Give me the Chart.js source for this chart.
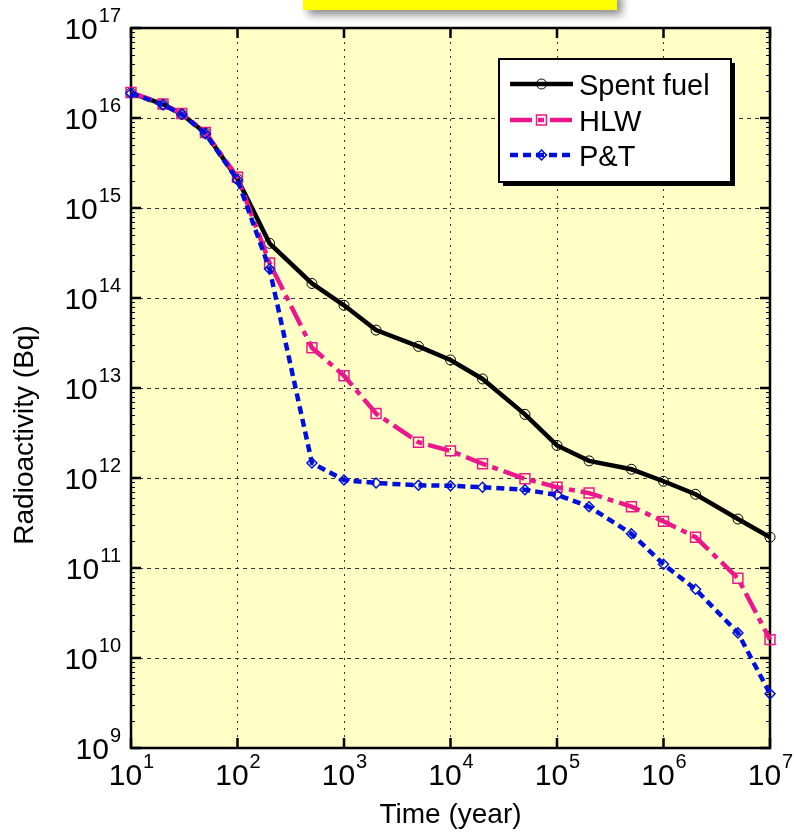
<!DOCTYPE html>
<html>
<head>
<meta charset="utf-8">
<script src="https://cdn.jsdelivr.net/npm/chart.js@4.4.0/dist/chart.umd.min.js"></script>
<style>
  html, body { margin: 0; padding: 0; background: #fff; }
  canvas { display: block; }
</style>
</head>
<body>
<canvas id="decayChart" width="794" height="834"></canvas>
<script>
// time after discharge (year)
const timeYears = [10, 20, 30, 50, 100, 200, 500, 1e3, 2e3, 5e3, 1e4, 2e4, 5e4, 1e5, 2e5, 5e5, 1e6, 2e6, 5e6, 1e7];

// radioactivity (Bq)
const spentFuel = [1.9e16, 1.42e16, 1.1e16, 6.8e15, 2.1e15, 4.05e14, 1.45e14, 8.3e13, 4.4e13, 2.9e13,
                   2.05e13, 1.26e13, 5.1e12, 2.3e12, 1.55e12, 1.25e12, 9.2e11, 6.6e11, 3.5e11, 2.2e11];
const hlw = [1.92e16, 1.43e16, 1.12e16, 6.9e15, 2.2e15, 2.45e14, 2.8e13, 1.37e13, 5.2e12, 2.5e12,
             2.0e12, 1.44e12, 9.8e11, 7.9e11, 6.8e11, 4.8e11, 3.3e11, 2.2e11, 7.7e10, 1.6e10];
const pandt = [1.88e16, 1.4e16, 1.1e16, 6.7e15, 2.05e15, 2.1e14, 1.47e12, 9.5e11, 8.8e11, 8.3e11,
               8.2e11, 7.9e11, 7.4e11, 6.5e11, 4.8e11, 2.4e11, 1.1e11, 5.8e10, 1.9e10, 4.0e9];

const seriesLabels = ['Spent fuel', 'HLW', 'P&T'];
const xTickExps = [1, 2, 3, 4, 5, 6, 7];
const yTickExps = [9, 10, 11, 12, 13, 14, 15, 16, 17];
const xTitle = 'Time (year)';
const yTitle = 'Radioactivity (Bq)';

const FONT = '"Liberation Sans", Arial, Helvetica, sans-serif';
const PLOT_BG = '#FFFFC6';

function toPoints(values) {
    return timeYears.map((t, i) => ({ x: t, y: values[i] }));
}

// marker shapes as used for the chart points (for the legend)
function drawMarker(ctx, style, r, x, y) {
    ctx.beginPath();
    if (style === 'circle') {
        ctx.arc(x, y, r, 0, Math.PI * 2);
    } else if (style === 'rect') {
        const s = r * Math.SQRT1_2;
        ctx.rect(x - s, y - s, 2 * s, 2 * s);
    } else {
        ctx.moveTo(x - r, y); ctx.lineTo(x, y - r); ctx.lineTo(x + r, y); ctx.lineTo(x, y + r);
        ctx.closePath();
    }
    ctx.stroke();
}

// "10" with a superscript exponent
function drawPow(ctx, exp, x, y, align) {
    ctx.font = '30px ' + FONT;
    const baseW = ctx.measureText('10').width;
    ctx.font = '20px ' + FONT;
    const expW = ctx.measureText(String(exp)).width;
    const total = baseW + expW;
    let left = x;
    if (align === 'right') left = x - total;
    else if (align === 'center') left = x - total / 2;
    ctx.textAlign = 'left';
    ctx.textBaseline = 'alphabetic';
    ctx.fillStyle = '#000';
    ctx.font = '30px ' + FONT;
    ctx.fillText('10', left, y);
    ctx.font = '20px ' + FONT;
    ctx.fillText(String(exp), left + baseW + 1, y - 17);
}

const decorPlugin = {
    id: 'decor',
    beforeDraw(chart) {
        const { ctx, chartArea: a } = chart;
        ctx.save();
        ctx.fillStyle = '#fff';
        ctx.fillRect(0, 0, chart.width, chart.height);
        // yellow title box (cut off at the top)
        ctx.shadowColor = 'rgba(0,0,0,0.45)';
        ctx.shadowBlur = 8;
        ctx.shadowOffsetX = 5;
        ctx.shadowOffsetY = 5;
        ctx.fillStyle = '#FFFF00';
        ctx.fillRect(303, -10, 314, 20);
        ctx.restore();
        ctx.save();
        ctx.fillStyle = PLOT_BG;
        ctx.fillRect(a.left, a.top, a.right - a.left, a.bottom - a.top);
        ctx.restore();
    },
    beforeDatasetsDraw(chart) {
        const { ctx, chartArea: a, scales } = chart;
        ctx.save();
        ctx.strokeStyle = '#000';
        // major ticks, inside, on all four sides
        ctx.lineWidth = 2.5;
        ctx.beginPath();
        xTickExps.forEach(e => {
            const px = scales.x.getPixelForValue(Math.pow(10, e));
            ctx.moveTo(px, a.bottom); ctx.lineTo(px, a.bottom - 10);
            ctx.moveTo(px, a.top); ctx.lineTo(px, a.top + 10);
        });
        yTickExps.forEach(e => {
            const py = scales.y.getPixelForValue(Math.pow(10, e));
            ctx.moveTo(a.left, py); ctx.lineTo(a.left + 10, py);
            ctx.moveTo(a.right, py); ctx.lineTo(a.right - 10, py);
        });
        ctx.stroke();
        // minor ticks on the y axis
        ctx.lineWidth = 1;
        ctx.beginPath();
        yTickExps.slice(0, -1).forEach(e => {
            for (let m = 2; m <= 9; m++) {
                const py = Math.round(scales.y.getPixelForValue(m * Math.pow(10, e))) + 0.5;
                ctx.moveTo(a.left, py); ctx.lineTo(a.left + 4, py);
                ctx.moveTo(a.right, py); ctx.lineTo(a.right - 4, py);
            }
        });
        ctx.stroke();
        // axes frame
        ctx.lineWidth = 2.5;
        ctx.strokeRect(a.left, a.top, a.right - a.left, a.bottom - a.top);
        ctx.restore();
    },
    afterDraw(chart) {
        const { ctx, chartArea: a, scales } = chart;
        ctx.save();
        // tick labels
        yTickExps.forEach(e => {
            const py = scales.y.getPixelForValue(Math.pow(10, e));
            drawPow(ctx, e, 120, py + 10.5, 'right');
        });
        xTickExps.forEach(e => {
            const px = scales.x.getPixelForValue(Math.pow(10, e));
            drawPow(ctx, e, px, 785, 'center');
        });
        // axis titles
        ctx.fillStyle = '#000';
        ctx.font = '28px ' + FONT;
        ctx.textAlign = 'center';
        ctx.textBaseline = 'alphabetic';
        ctx.fillText(xTitle, (a.left + a.right) / 2, 823);
        ctx.save();
        ctx.translate(33, 435);
        ctx.rotate(-Math.PI / 2);
        ctx.fillText(yTitle, 0, 0);
        ctx.restore();

        // legend box with a hard shadow
        const lx = 499, ly = 59, lw = 232, lh = 123;
        ctx.fillStyle = '#000';
        ctx.fillRect(lx + 4, ly + 4, lw, lh);
        ctx.fillStyle = '#fff';
        ctx.fillRect(lx, ly, lw, lh);
        ctx.lineWidth = 2;
        ctx.strokeStyle = '#000';
        ctx.strokeRect(lx, ly, lw, lh);

        const rows = [84, 120, 155];
        seriesLabels.forEach((label, i) => {
            const ds = chart.data.datasets.find(d => d.label === label);
            const y = rows[i];
            ctx.save();
            ctx.strokeStyle = ds.borderColor;
            ctx.lineWidth = ds.borderWidth;
            ctx.setLineDash(ds.borderDash || []);
            ctx.beginPath();
            ctx.moveTo(510, y);
            ctx.lineTo(573, y);
            ctx.stroke();
            ctx.setLineDash([]);
            ctx.lineWidth = ds.pointBorderWidth;
            ctx.strokeStyle = ds.pointBorderColor;
            drawMarker(ctx, ds.pointStyle, ds.pointRadius, 541.5, y);
            ctx.restore();
            ctx.fillStyle = '#000';
            ctx.font = '29px ' + FONT;
            ctx.textAlign = 'left';
            ctx.textBaseline = 'alphabetic';
            ctx.fillText(label, 579, y + 11);
        });
        ctx.restore();
    }
};

const ctx = document.getElementById('decayChart').getContext('2d');

new Chart(ctx, {
    type: 'line',
    data: {
        datasets: [
            {
                label: seriesLabels[0],
                data: toPoints(spentFuel),
                borderColor: '#000000',
                borderWidth: 4.5,
                pointStyle: 'circle',
                pointRadius: 5,
                pointBorderWidth: 1,
                pointBorderColor: '#000000',
                pointBackgroundColor: 'rgba(0,0,0,0)',
                order: 3
            },
            {
                label: seriesLabels[1],
                data: toPoints(hlw),
                borderColor: '#EC178C',
                borderWidth: 4.5,
                borderDash: [22, 6, 6, 6],
                pointStyle: 'rect',
                pointRadius: 7,
                pointBorderWidth: 1.5,
                pointBorderColor: '#EC178C',
                pointBackgroundColor: 'rgba(0,0,0,0)',
                order: 2
            },
            {
                label: seriesLabels[2],
                data: toPoints(pandt),
                borderColor: '#0010DC',
                borderWidth: 4.5,
                borderDash: [8, 5],
                pointStyle: 'rectRot',
                pointRadius: 5,
                pointBorderWidth: 1.5,
                pointBorderColor: '#0010DC',
                pointBackgroundColor: 'rgba(0,0,0,0)',
                order: 1
            }
        ]
    },
    options: {
        responsive: false,
        animation: false,
        devicePixelRatio: 1,
        clip: false,
        layout: { padding: { left: 131, right: 24, top: 28, bottom: 86 } },
        elements: { line: { tension: 0, fill: false } },
        plugins: { legend: { display: false }, tooltip: { enabled: false } },
        scales: {
            x: {
                type: 'logarithmic',
                min: 10,
                max: 1e7,
                afterBuildTicks: axis => { axis.ticks = xTickExps.map(e => ({ value: Math.pow(10, e) })); },
                afterFit: axis => { axis.height = 0; },
                ticks: { display: false },
                grid: { color: '#333', lineWidth: 1, drawTicks: false },
                border: { display: false, dash: [2, 5] }
            },
            y: {
                type: 'logarithmic',
                min: 1e9,
                max: 1e17,
                afterBuildTicks: axis => { axis.ticks = yTickExps.map(e => ({ value: Math.pow(10, e) })); },
                afterFit: axis => { axis.width = 0; },
                ticks: { display: false },
                grid: { color: '#333', lineWidth: 1, drawTicks: false },
                border: { display: false, dash: [4, 4] }
            }
        }
    },
    plugins: [decorPlugin]
});
</script>
</body>
</html>
